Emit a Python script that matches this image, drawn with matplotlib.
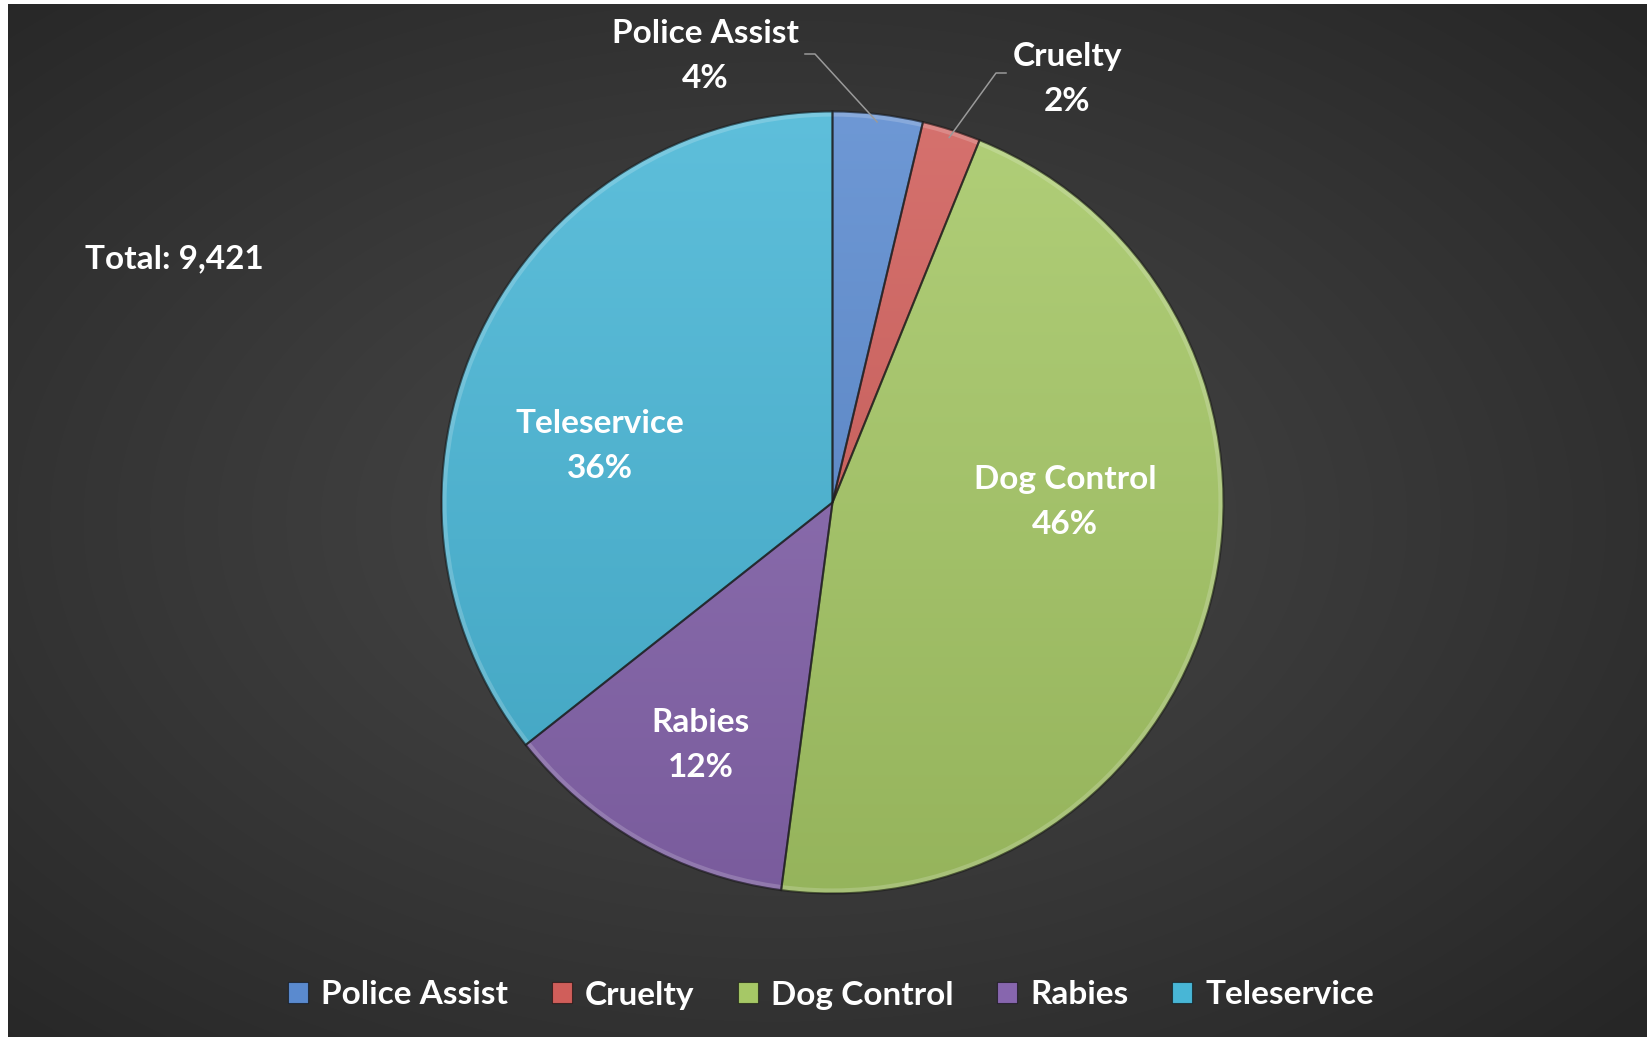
import numpy as np
import matplotlib
matplotlib.use("Agg")
import matplotlib.pyplot as plt
from matplotlib.patches import Rectangle, Circle
from matplotlib.colors import to_rgb

# ---- data ----
categories = ["Police Assist", "Cruelty", "Dog Control", "Rabies", "Teleservice"]
counts = [350, 228, 4330, 1155, 3358]
colors = ["#5A8ACF", "#D05E5A", "#A6C866", "#8766AE", "#48B6D6"]

W, H = 1647, 1037
fig = plt.figure(figsize=(W / 100, H / 100), dpi=100, facecolor="white")

FONT = "Lato"
FS = 24

# ---- background (radial gradient) ----
bg = fig.add_axes([8 / W, 0, 1 - 8 / W, 1 - 4 / H])
bg.set_axis_off()
yy, xx = np.mgrid[0:1033, 0:1639]
cxb, cyb = 1639 * 0.47, 1033 * 0.5
r = np.hypot((xx - cxb) / 1639, (yy - cyb) / 1033) / 0.72
r = np.clip(r, 0, 1)
val = (0x48 - (0x48 - 0x26) * r ** 1.1) / 255.0
bg.imshow(np.dstack([val, val, val]), aspect="auto", interpolation="bilinear")

# ---- pie ----
ax = fig.add_axes([0, 0, 1, 1])
ax.set_facecolor("none")
cx, cy, R = 832.5, H - 502.5, 391
wedges, _ = ax.pie(counts, colors=colors, startangle=90, counterclock=False,
                   center=(cx, cy), radius=R, frame=True,
                   wedgeprops=dict(edgecolor=(0.1, 0.1, 0.1, 0.6), linewidth=1.5))
ax.set_xlim(0, W)
ax.set_ylim(0, H)
ax.set_aspect("auto")
ax.set_axis_off()

# gradient fill for each wedge (lighter at the top, darker at the bottom)
ny = 400
t = np.linspace(0, 1, ny)[:, None]  # 0 top -> 1 bottom
for w, c in zip(wedges, colors):
    base = np.array(to_rgb(c))
    top = base + (1 - base) * 0.12
    bot = base * 0.90
    grad = top[None, :] * (1 - t) + bot[None, :] * t
    img = np.repeat(grad[:, None, :], 4, axis=1)
    im = ax.imshow(img, extent=(cx - R, cx + R, cy - R, cy + R), origin="upper",
                   aspect="auto", interpolation="bilinear", zorder=1)
    im.set_clip_path(w)
    w.set_facecolor("none")
    w.set_zorder(2)
# soft bevel highlight along the rim
ax.add_patch(Circle((cx, cy), R - 3, facecolor="none", edgecolor=(1, 1, 1, 0.18), lw=3, zorder=1.5))
ax.set_xlim(0, W)
ax.set_ylim(0, H)

total = sum(counts)
pcts = [100 * v / total for v in counts]
labels = [f"{n}\n{p:.0f}%" for n, p in zip(categories, pcts)]

# label positions (pixel coordinates, y from top)
label_pos = [(705, 56), (1067, 79), (1065, 502), (701, 745), (600, 446)]
for lab, (lx, ly) in zip(labels, label_pos):
    ax.text(lx, H - ly, lab, ha="center", va="center", color="white",
            fontsize=FS, fontweight="bold", family=FONT, linespacing=1.7, zorder=5)

# leader lines for the two small slices
cum = np.cumsum([0] + pcts)
leader = {0: [(805, 54), (815, 54)], 1: [(1006, 73), (996, 73)]}
for i, pts in leader.items():
    mid = 90 - (cum[i] + pcts[i] / 2) * 3.6
    ax_pt = (cx + 0.98 * R * np.cos(np.radians(mid)), cy + 0.98 * R * np.sin(np.radians(mid)))
    xs = [p[0] for p in pts] + [ax_pt[0]]
    ys = [H - p[1] for p in pts] + [ax_pt[1]]
    ax.plot(xs, ys, color="#9a9a9a", lw=1.1, zorder=4)

ax.text(85, H - 259, f"Total: {total:,}", ha="left", va="center", color="white",
        fontsize=FS, fontweight="bold", family=FONT)

# ---- legend ----
handles = [Rectangle((0, 0), 1, 1, facecolor=c, edgecolor=(0, 0, 0, 0.5), lw=0.8) for c in colors]
leg = fig.legend(handles, categories, loc="center", bbox_to_anchor=(831 / W, 42 / H),
                 ncol=5, frameon=False, handlelength=0.6, handleheight=0.6,
                 handletextpad=0.4, columnspacing=1.3,
                 prop=dict(family=FONT, weight="bold", size=FS))
for txt in leg.get_texts():
    txt.set_color("white")

fig.savefig("out.png", dpi=100, facecolor="white")
